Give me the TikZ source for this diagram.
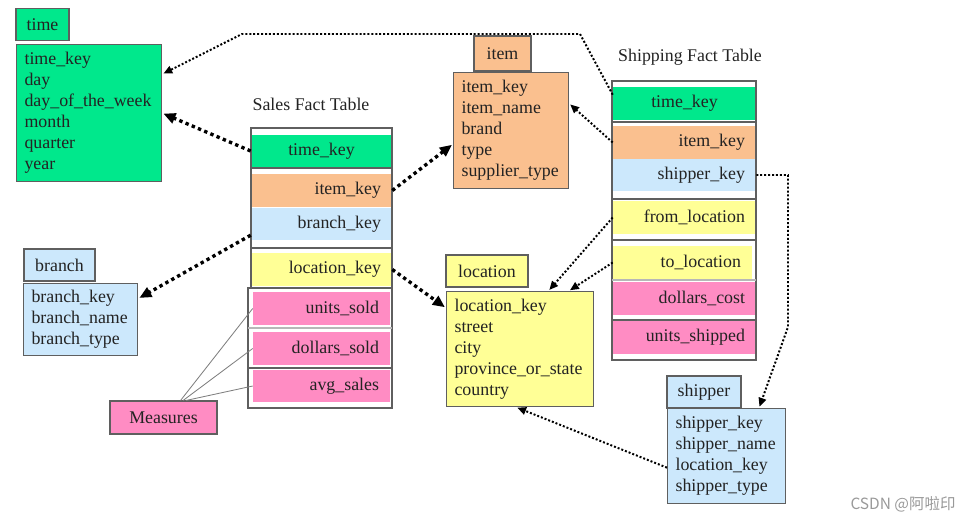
\documentclass[tikz,border=0pt]{standalone}
\usepackage{fontspec}
\setmainfont{Liberation Serif}
\newfontfamily\cjkfont{Noto Sans CJK SC}
\usepackage{xcolor}
\usepackage{tikz}
\usetikzlibrary{arrows.meta}
\definecolor{timefill}{RGB}{0,232,140}
\definecolor{itemfill}{RGB}{250,192,143}
\definecolor{keyfill}{RGB}{204,232,252}
\definecolor{locfill}{RGB}{255,255,150}
\definecolor{measfill}{RGB}{255,140,195}
\definecolor{edge}{RGB}{95,95,95}
\definecolor{ink}{RGB}{35,35,35}

\begin{document}
\begin{tikzpicture}[
      x=0.025cm,
      y=-0.025cm,
      base/.style={
        draw=edge,
        line width=0.8pt,
        text=ink,
        inner sep=0pt,
        font=\fontsize{12.7}{14.9}\selectfont
      },
      tabtitle/.style={base, minimum height=8mm},
      tabbody/.style={base, align=left, inner xsep=2mm, anchor=north west},
      row/.style={text=ink, inner ysep=0pt, inner xsep=2.75mm,
        minimum height=8.2mm, text width=29.75mm, align=right,
        font=\fontsize{12.7}{14.9}\selectfont},
      frame/.style={draw=edge, line width=0.8pt},
      fkthick/.style={line width=2.4pt, dash pattern=on 2.4pt off 2.4pt,
        -{Triangle[length=3mm,width=2.6mm]}, shorten >=1pt},
      fkthin/.style={line width=1.4pt, dash pattern=on 1.4pt off 1.4pt,
        -{Triangle[length=2.2mm,width=1.9mm]}, shorten >=1pt},
      measline/.style={draw=edge!80, line width=0.6pt},
      label/.style={text=ink, font=\fontsize{12.7}{14.9}\selectfont}
    ]
    \useasboundingbox (0,0) rectangle (969,521);

    \node[tabtitle, fill=timefill, minimum width=13.25mm] (ttitle) at (42.5,24.5) {time};
    \node[tabbody, fill=timefill, text width=32.25mm, minimum height=34.25mm] (tbody)
      at (16,44) {time\_key\\day\\day\_of\_the\_week\\month\\quarter\\year};

    \node[tabtitle, fill=keyfill, minimum width=17.75mm] (btitle) at (59.5,265) {branch};
    \node[tabbody, fill=keyfill, text width=24.5mm, minimum height=18mm] (bbody)
      at (23,283) {branch\_key\\branch\_name\\branch\_type};

    \node[tabtitle, fill=measfill, minimum width=26.75mm, minimum height=8.25mm] (meas)
      at (163.5,417.5) {Measures};

    \node[tabtitle, fill=itemfill, minimum width=14.25mm, minimum height=8.75mm] (ititle)
      at (502.5,53.5) {item};
    \node[tabbody, fill=itemfill, text width=24.75mm, minimum height=29mm] (ibody)
      at (453,72) {item\_key\\item\_name\\brand\\type\\supplier\_type};

    \node[tabtitle, fill=locfill, minimum width=20.5mm] (ltitle) at (487,271) {location};
    \node[tabbody, fill=locfill, text width=32.75mm, minimum height=28.75mm] (lbody)
      at (446,291) {location\_key\\street\\city\\province\_or\_state\\country};

    \node[tabtitle, fill=keyfill, minimum width=18.5mm] (stitle2) at (704,392) {shipper};
    \node[tabbody, fill=keyfill, text width=25.5mm, minimum height=23.75mm] (sbody)
      at (667,408) {shipper\_key\\shipper\_name\\location\_key\\shipper\_type};

    \node[label] (stitle) at (311,104) {Sales Fact Table};
    \node[row, fill=timefill, align=center] (stime) at (321.5,151) {time\_key};
    \node[row, fill=itemfill] (sitem) at (321.5,190.5) {item\_key};
    \node[row, fill=keyfill] (sbranch) at (321.5,224) {branch\_key};
    \node[row, fill=locfill] (sloc) at (321.5,269.5) {location\_key};
    \node[row, fill=measfill, text width=28.75mm] (sunits) at (321.5,308.5) {units\_sold};
    \node[row, fill=measfill, text width=28.75mm] (sdollars) at (321.5,348.5) {dollars\_sold};
    \node[row, fill=measfill, text width=28.75mm] (savg) at (321.5,386) {avg\_sales};
    \draw[frame] (251,128) rectangle (392,168);
    \draw[frame] (251,168) rectangle (392,248);
    \draw[frame] (251,248) rectangle (392,288);
    \draw[frame] (248,288) rectangle (392,408);
    \draw[frame, draw=edge!45] (248,328) -- (392,328);
    \draw[frame] (248,368) -- (392,368);

    \node[label] (htitle) at (690,57) {Shipping Fact Table};
    \node[row, fill=timefill, align=center, text width=30.25mm] (htime) at (684.5,103.5) {time\_key};
    \node[row, fill=itemfill, text width=30.25mm] (hitem) at (684.5,142.5) {item\_key};
    \node[row, fill=keyfill, text width=30.25mm] (hshipper) at (684.5,175) {shipper\_key};
    \node[row, fill=locfill, text width=30.25mm] (hfrom) at (684.5,217.5) {from\_location};
    \node[row, fill=locfill, text width=29.25mm] (hto) at (682.5,262.5) {to\_location};
    \node[row, fill=measfill, text width=30.25mm] (hcost) at (684.5,298.5) {dollars\_cost};
    \node[row, fill=measfill, text width=30.25mm] (hunits) at (684.5,337.5) {units\_shipped};
    \draw[frame] (612,81) rectangle (756,122);
    \draw[frame] (612,122) rectangle (756,199);
    \draw[frame] (612,199) rectangle (756,240);
    \draw[frame] (612,240) rectangle (756,320);
    \draw[frame, draw=edge!45] (612,280) -- (756,280);
    \draw[frame] (612,320) rectangle (756,360);

    \coordinate (bendtr) at (580,34);
    \coordinate (bendtl) at (242,34);
    \coordinate (sdrop) at (788,327);

    \draw[fkthick] (stime.west) -- (tbody.east);
    \draw[fkthick] (sitem.east) -- (ibody.193);
    \draw[fkthick] (sbranch.189) -- (bbody.20);
    \draw[fkthick] (sloc.east) -- (lbody.151);

    \draw[fkthin] (htime.173) -- (bendtr) -- (bendtl) -- (tbody.28);
    \draw[fkthin] (hitem.west) -- (ibody.25);
    \draw[fkthin] (hfrom.west) -- (lbody.64);
    \draw[fkthin] (hto.west) -- (lbody.50);
    \draw[fkthin] (hshipper.east) -| (sdrop) -- (sbody.56);
    \draw[fkthin] (sbody.191) -- (lbody.266);

    \draw[measline] (meas.45) -- (sunits.west);
    \draw[measline] (meas.41) -- (sdollars.west);
    \draw[measline] (meas.37) -- (savg.west);

    \node[text=black!40, font=\cjkfont\fontsize{11}{13}\selectfont] (mark)
      at (903,504) {CSDN @阿啦印};
  \end{tikzpicture}
\end{document}
